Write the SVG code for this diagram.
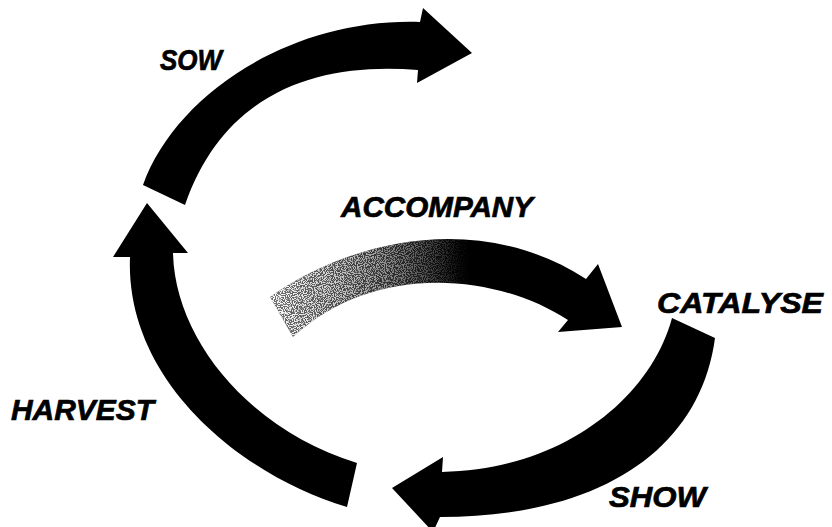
<svg xmlns="http://www.w3.org/2000/svg" width="832" height="527" viewBox="0 0 832 527">
<style>
.lbl{font-family:"Liberation Sans",Arial,sans-serif;font-weight:bold;font-style:italic;font-size:30px;fill:#000;stroke:#000;stroke-width:0.7px}
.arr{fill:#000}
</style>
<defs>
<linearGradient id="grad" gradientUnits="userSpaceOnUse" x1="270" y1="0" x2="480" y2="0">
<stop offset="0" stop-color="#707070"/>
<stop offset="0.55" stop-color="#303030"/>
<stop offset="0.9" stop-color="#000"/>
</linearGradient>
<linearGradient id="maskgrad" gradientUnits="userSpaceOnUse" x1="270" y1="0" x2="480" y2="0">
<stop offset="0" stop-color="#fff"/>
<stop offset="0.5" stop-color="#888"/>
<stop offset="0.95" stop-color="#000"/>
</linearGradient>
<mask id="fade" maskUnits="userSpaceOnUse" x="0" y="0" width="832" height="527">
<rect x="0" y="0" width="832" height="527" fill="url(#maskgrad)"/>
</mask>
<filter id="speck" filterUnits="userSpaceOnUse" x="250" y="200" width="400" height="160">
<feTurbulence type="fractalNoise" baseFrequency="0.9" numOctaves="1" seed="5" result="n"/>
<feColorMatrix in="n" type="matrix" values="0 0 0 0 1  0 0 0 0 1  0 0 0 0 1  10 0 0 0 -4.6" result="w"/>
<feComposite in="w" in2="SourceGraphic" operator="in"/>
</filter>
</defs>
<rect width="832" height="527" fill="#fff"/>
<g id="connectors">
<path id="sow-arrow" class="arr" d="M143,185 C175,95 290,18 420,22 L423,8 L472,53 L417,83 L418,70 C320,62 225,90 185,205 Z"/>
<path id="harvest-arrow" class="arr" d="M113,257 L147,203 L188,253 L173,253 C175,340 250,430 357,463 L347,507 C240,475 125,380 130,257 Z"/>
<g id="accompany-arrow">
<path fill="url(#grad)" d="M270,297 C350,240 480,210 586,279 L598,264 L622,327 L558,332 L568,320 C490,270 370,265 293,337 Z"/>
<g mask="url(#fade)">
<path fill="#fff" filter="url(#speck)" d="M270,297 C350,240 480,210 586,279 L598,264 L622,327 L558,332 L568,320 C490,270 370,265 293,337 Z"/>
</g>
</g>
<path id="show-arrow" class="arr" d="M672,318 L715,338 C700,450 600,517 440,517 L433,532 L392,488 L443,457 L442,472 C560,470 650,400 672,318 Z"/>
</g>
<g id="sow"><text class="lbl" x="160" y="70" textLength="62" lengthAdjust="spacingAndGlyphs">SOW</text></g>
<g id="accompany"><text class="lbl" x="341" y="217" textLength="192" lengthAdjust="spacingAndGlyphs">ACCOMPANY</text></g>
<g id="catalyse"><text class="lbl" x="657" y="313" textLength="166" lengthAdjust="spacingAndGlyphs">CATALYSE</text></g>
<g id="show"><text class="lbl" x="609" y="507" textLength="97" lengthAdjust="spacingAndGlyphs">SHOW</text></g>
<g id="harvest"><text class="lbl" x="11" y="420" textLength="143" lengthAdjust="spacingAndGlyphs">HARVEST</text></g>
</svg>
